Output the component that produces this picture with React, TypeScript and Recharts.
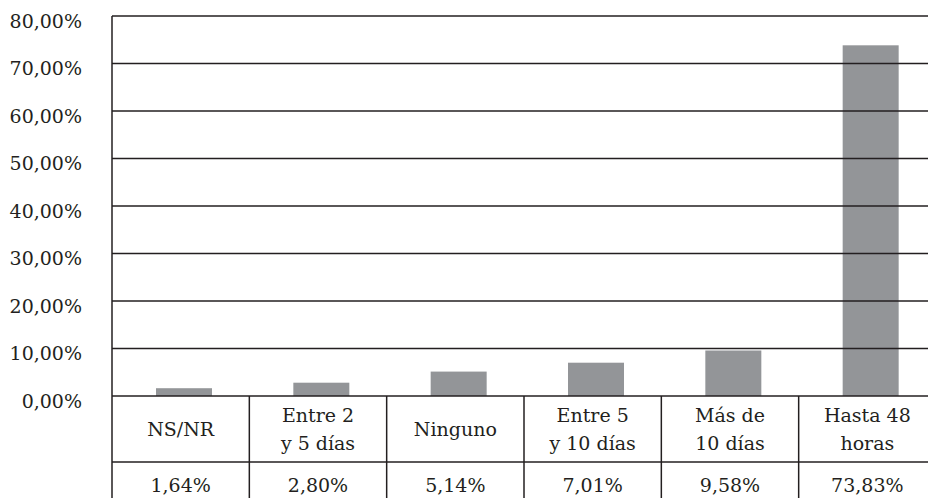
import { Bar, BarChart, ReferenceLine, XAxis, YAxis } from "recharts";

const categories = ["NS/NR", "Entre 2\ny 5 días", "Ninguno", "Entre 5\ny 10 días", "Más de\n10 días", "Hasta 48\nhoras"];
const values = [1.64, 2.8, 5.14, 7.01, 9.58, 73.83];
const yTicks = [0, 10, 20, 30, 40, 50, 60, 70, 80];

const data = categories.map((name, i) => ({ name, value: values[i] }));

const INK = "#231f20";
const TEXT_STYLE = { fontFamily: '"DejaVu Serif", serif', fontSize: 19 };
const CHART_W = 940;
const CHART_H = 500;
const Y_W = 112;
const RIGHT = 4;
const TOP = 16;
const X_H = 104;
const BAND = (CHART_W - Y_W - RIGHT) / categories.length;

const pct = (v: number) => `${v.toFixed(2).replace(".", ",")}%`;

function YTick({ x, y, payload }: any) {
  return (
    <text x={x} y={y + 11.5} textAnchor="end" fill={INK} style={TEXT_STYLE}>
      {pct(payload.value)}
    </text>
  );
}

function TableTick({ x, y, payload, index }: any) {
  const lines = String(payload.value).split("\n");
  const half = BAND / 2;
  return (
    <g>
      {index === 0 && <line x1={x - half} x2={x - half} y1={y} y2={y + X_H} stroke={INK} strokeWidth={1.5} />}
      <line x1={x + half} x2={x + half} y1={y} y2={y + X_H} stroke={INK} strokeWidth={1.5} />
      <line x1={x - half} x2={x + half} y1={y + 66} y2={y + 66} stroke={INK} strokeWidth={1.5} />
      {lines.length === 1 ? (
        <text x={x} y={y + 40} textAnchor="middle" fill={INK} style={TEXT_STYLE}>
          {lines[0]}
        </text>
      ) : (
        lines.map((l, i) => (
          <text key={i} x={x} y={y + 26 + i * 27.5} textAnchor="middle" fill={INK} style={TEXT_STYLE}>
            {l}
          </text>
        ))
      )}
      <text x={x} y={y + 96} textAnchor="middle" fill={INK} style={TEXT_STYLE}>
        {pct(values[index])}
      </text>
    </g>
  );
}

function ShiftedBar({ x, y, width, height, fill }: any) {
  return <rect x={x + 3} y={y} width={width} height={height} fill={fill} />;
}

export default function App() {
  return (
    <div style={{ position: "absolute", left: 0, top: 0, width: 928, height: 498, overflow: "hidden", background: "#fff" }}>
      <BarChart width={CHART_W} height={CHART_H} data={data} margin={{ top: TOP, right: RIGHT, bottom: 0, left: 0 }}>
        <XAxis
          dataKey="name"
          height={X_H}
          interval={0}
          tickLine={false}
          tickSize={0}
          tickMargin={0}
          axisLine={{ stroke: INK, strokeWidth: 1.5 }}
          tick={<TableTick />}
        />
        <YAxis
          width={Y_W}
          domain={[0, 80]}
          ticks={yTicks}
          tickLine={false}
          tickSize={0}
          tickMargin={30}
          axisLine={{ stroke: INK, strokeWidth: 1.5 }}
          tick={<YTick />}
        />
        <Bar dataKey="value" fill="#939598" barSize={56} shape={<ShiftedBar />} isAnimationActive={false} />
        {yTicks.slice(1).map((t) => (
          <ReferenceLine key={t} y={t} stroke={INK} strokeWidth={1.5} ifOverflow="extendDomain" />
        ))}
      </BarChart>
    </div>
  );
}
